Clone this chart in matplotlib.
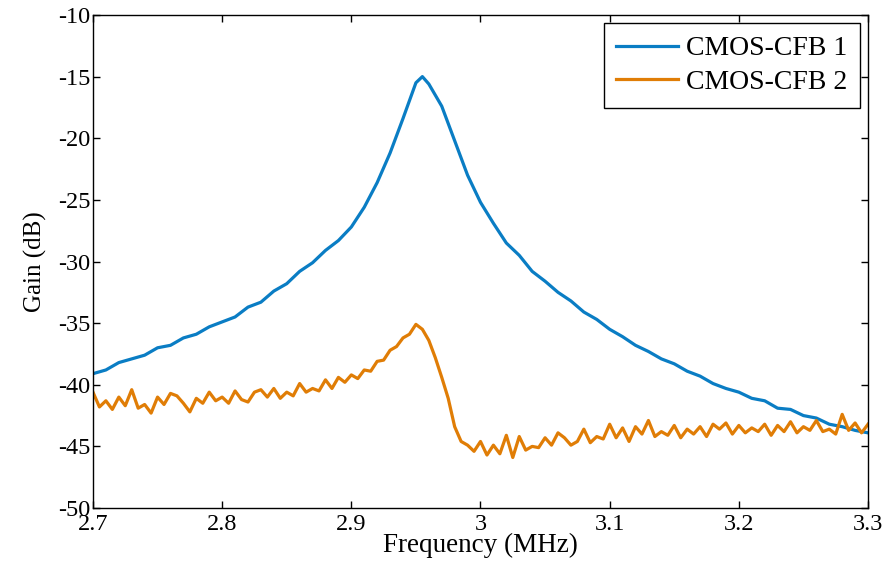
import numpy as np
import matplotlib
matplotlib.use("Agg")
import matplotlib.pyplot as plt

# ---------- Data ----------
freq_1 = [2.70, 2.71, 2.72, 2.73, 2.74, 2.75, 2.76, 2.77, 2.78, 2.79,
          2.80, 2.81, 2.82, 2.83, 2.84, 2.85, 2.86, 2.87, 2.88, 2.89,
          2.90, 2.91, 2.92, 2.93, 2.94, 2.95, 2.955, 2.96, 2.97, 2.98,
          2.99, 3.00, 3.01, 3.02, 3.03, 3.04, 3.05, 3.06, 3.07, 3.08,
          3.09, 3.10, 3.11, 3.12, 3.13, 3.14, 3.15, 3.16, 3.17, 3.18,
          3.19, 3.20, 3.21, 3.22, 3.23, 3.24, 3.25, 3.26, 3.27, 3.28,
          3.29, 3.30]
gain_1 = [-39.1, -38.8, -38.2, -37.9, -37.6, -37.0, -36.8, -36.2, -35.9, -35.3,
          -34.9, -34.5, -33.7, -33.3, -32.4, -31.8, -30.8, -30.1, -29.1, -28.3,
          -27.2, -25.6, -23.6, -21.2, -18.4, -15.5, -15.0, -15.6, -17.4, -20.2,
          -23.0, -25.2, -26.9, -28.5, -29.5, -30.8, -31.6, -32.5, -33.2, -34.1,
          -34.7, -35.5, -36.1, -36.8, -37.3, -37.9, -38.3, -38.9, -39.3, -39.9,
          -40.3, -40.6, -41.1, -41.3, -41.9, -42.0, -42.5, -42.7, -43.2, -43.4,
          -43.7, -43.9]

freq_2 = [round(2.70 + 0.005 * i, 3) for i in range(121)]
gain_2 = [-40.6, -41.8, -41.3, -42.0, -41.0, -41.7, -40.4, -41.9, -41.6, -42.3,
          -41.0, -41.6, -40.7, -40.9, -41.5, -42.2, -41.1, -41.5, -40.6, -41.3,
          -41.0, -41.5, -40.5, -41.2, -41.4, -40.6, -40.4, -41.0, -40.3, -41.1,
          -40.6, -40.9, -39.9, -40.6, -40.3, -40.5, -39.6, -40.3, -39.4, -39.8,
          -39.2, -39.5, -38.8, -38.9, -38.1, -38.0, -37.2, -36.9, -36.2, -35.9,
          -35.1, -35.5, -36.4, -37.8, -39.4, -41.1, -43.4, -44.6, -44.9, -45.4,
          -44.6, -45.7, -44.9, -45.6, -44.1, -45.9, -44.2, -45.3, -45.0, -45.1,
          -44.3, -44.9, -43.9, -44.3, -44.9, -44.6, -43.6, -44.7, -44.2, -44.4,
          -43.2, -44.3, -43.5, -44.6, -43.4, -44.0, -42.9, -44.2, -43.8, -44.1,
          -43.3, -44.3, -43.6, -44.0, -43.4, -44.2, -43.2, -43.6, -43.1, -44.0,
          -43.3, -43.9, -43.5, -43.8, -43.2, -44.1, -43.3, -43.8, -43.0, -43.9,
          -43.4, -43.7, -42.9, -43.8, -43.6, -44.0, -42.4, -43.7, -43.1, -43.9,
          -43.2]

x_ticks = [2.7, 2.8, 2.9, 3.0, 3.1, 3.2, 3.3]
x_tick_labels = ["2.7", "2.8", "2.9", "3", "3.1", "3.2", "3.3"]
y_ticks = [-50, -45, -40, -35, -30, -25, -20, -15, -10]

# ---------- Plot ----------
plt.rcParams["font.family"] = ["Liberation Serif", "DejaVu Serif"]
plt.rcParams["axes.unicode_minus"] = False

fig = plt.figure(figsize=(8.88, 5.83), dpi=100)
ax = fig.add_axes([0.1047, 0.1286, 0.8728, 0.8457])

ax.plot(freq_1, gain_1, color="#0A7DC4", linewidth=2.3, label="CMOS-CFB 1")
ax.plot(freq_2, gain_2, color="#E07D06", linewidth=2.3, label="CMOS-CFB 2")

ax.set_xlim(2.7, 3.3)
ax.set_ylim(-50, -10)
ax.set_xticks(x_ticks)
ax.set_xticklabels(x_tick_labels)
ax.set_yticks(y_ticks)
ax.tick_params(direction="in", top=True, right=True, labelsize=17.5,
               length=5, width=1.0, pad=2)
ax.tick_params(axis="x", pad=4)
for s in ax.spines.values():
    s.set_linewidth(1.0)

ax.set_xlabel("Frequency (MHz)", fontsize=19.5, labelpad=-1)
ax.set_ylabel("Gain (dB)", fontsize=18, labelpad=8)

leg = ax.legend(loc="upper right", fontsize=20, frameon=True, fancybox=False,
                edgecolor="black", handlelength=2.2, borderaxespad=0.3,
                borderpad=0.45, labelspacing=0.3, handletextpad=0.3)
leg.get_frame().set_linewidth(1.0)
leg.get_frame().set_alpha(1)

fig.savefig("out.png", dpi=100)
